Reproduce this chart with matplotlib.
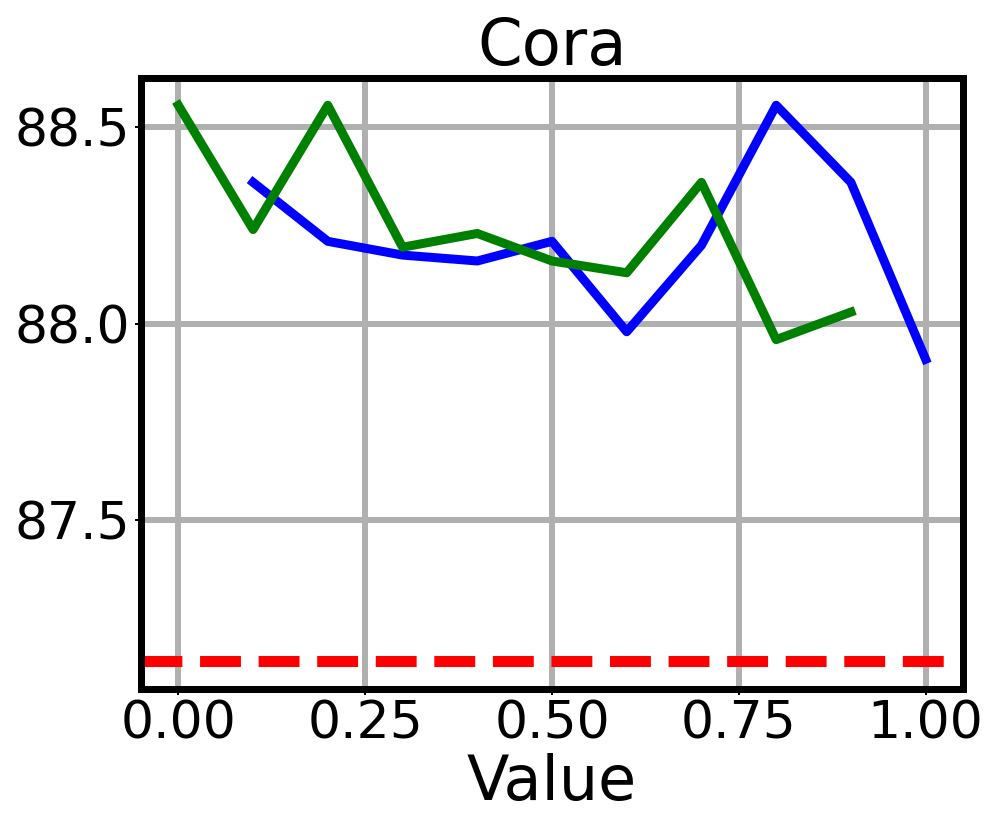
import matplotlib
matplotlib.use("Agg")
import matplotlib.pyplot as plt

x_blue = [0.1, 0.2, 0.3, 0.4, 0.5, 0.6, 0.7, 0.8, 0.9, 1.0]
y_blue = [88.36, 88.21, 88.175, 88.16, 88.21, 87.98, 88.20, 88.556, 88.36, 87.91]
x_green = [0.0, 0.1, 0.2, 0.3, 0.4, 0.5, 0.6, 0.7, 0.8, 0.9]
y_green = [88.556, 88.24, 88.556, 88.195, 88.23, 88.16, 88.13, 88.36, 87.96, 88.03]
baseline = 87.142

dpi = 100
px = 72.0 / dpi

fig = plt.figure(figsize=(9.97, 8.31), dpi=dpi)
ax = fig.add_axes([141/997, 1-689/831, (963-141)/997, (689-77.5)/831])

ax.plot(x_blue, y_blue, color='blue', lw=9*px)
ax.plot(x_green, y_green, color='green', lw=9*px)
ax.axhline(baseline, color='red', ls='--', lw=11.05*px)

ax.set_xticks([0.0, 0.25, 0.5, 0.75, 1.0])
ax.set_yticks([87.5, 88.0, 88.5])
ax.grid(True, color='#b0b0b0', lw=6*px)
ax.set_axisbelow(True)
for s in ax.spines.values():
    s.set_linewidth(7*px)
ax.tick_params(labelsize=52*px, width=2*px, length=6*px)
ax.set_title('Cora', fontsize=64*px, pad=8)
ax.set_xlabel('Value', fontsize=62*px, labelpad=2)

fig.savefig('out.png', dpi=dpi)
